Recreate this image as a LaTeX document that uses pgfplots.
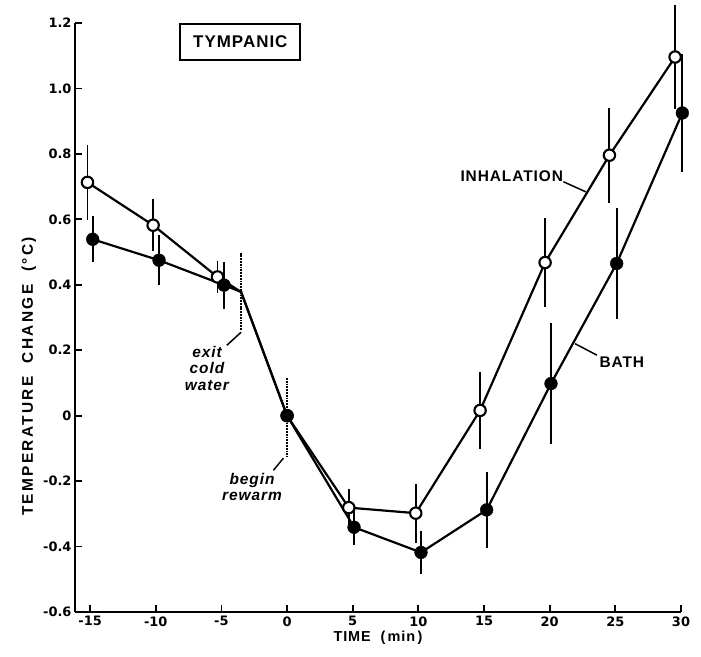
\documentclass[border=0pt]{standalone}
\usepackage{pgfplots}
\pgfplotsset{compat=1.18}
\usepackage{fontspec}
\setmainfont{Liberation Sans}
\newfontfamily\lab[LetterSpace=6]{Liberation Sans}
\newfontfamily\ylab[LetterSpace=15]{Liberation Sans}
\newfontfamily\tickf{DejaVu Sans}
\begin{document}
\begin{tikzpicture}
\begin{axis}[
  at={(0,0)}, anchor=south west,
  scale only axis, width=606bp, height=589bp,
  xmin=-16.15, xmax=30, ymin=-0.6, ymax=1.2,
  clip=false,
  axis x line=bottom, axis y line=left,
  axis line style={-, line width=2.4pt},
  xtick={-15,-10,-5,0,5,10,15,20,25,30},
  xticklabels={-15,-10,-5,0,5,10,15,20,25,30},
  ytick={-0.6,-0.4,-0.2,0,0.2,0.4,0.6,0.8,1.0,1.2},
  yticklabels={-0.6,-0.4,-0.2,0,0.2,0.4,0.6,0.8,1.0,1.2},
  tick align=inside, major tick length=7bp,
  tick style={line width=1.8pt, black},
  ticklabel style={font=\tickf\bfseries\fontsize{13}{14}\selectfont},
  xticklabel style={yshift=-1bp},
  yticklabel style={xshift=0bp},
]
% connecting lines
\addplot[black, line width=2.2pt] coordinates {
  (-15.2,0.713) (-10.2,0.582) (-5.3,0.424) (-3.5,0.378) (0,0) (4.7,-0.281)
  (9.8,-0.298) (14.7,0.016) (19.65,0.468) (24.55,0.796) (29.55,1.096)};
\addplot[black, line width=2.2pt] coordinates {
  (-14.8,0.539) (-9.75,0.475) (-4.8,0.399) (-3.5,0.378) (0,0) (5.1,-0.341)
  (10.2,-0.418) (15.2,-0.288) (20.1,0.098) (25.1,0.465) (30.1,0.925)};
% open circles: inhalation
\addplot[only marks, mark=*, mark size=5.7bp,
  mark options={fill=white, draw=black, line width=2.1pt},
  error bars/.cd, y dir=both, y explicit, error mark=none,
  error bar style={line width=1.9pt, black}]
  coordinates {
  (-15.2,0.713) +- (0,0.115)
  (-10.2,0.582) +- (0,0.08)
  (-5.3,0.424) +- (0,0.05)
  (0,0) +- (0,0)
  (4.7,-0.281) +- (0,0.056)
  (9.8,-0.298) +- (0,0.09)
  (14.7,0.016) +- (0,0.117)
  (19.65,0.468) +- (0,0.135)
  (24.55,0.796) +- (0,0.145)
  (29.55,1.096) +- (0,0.16)};
% filled circles: bath
\addplot[only marks, mark=*, mark size=6.4bp,
  mark options={fill=black, draw=black},
  error bars/.cd, y dir=both, y explicit, error mark=none,
  error bar style={line width=1.9pt, black}]
  coordinates {
  (-14.8,0.539) +- (0,0.07)
  (-9.75,0.475) +- (0,0.077)
  (-4.8,0.399) +- (0,0.072)
  (0,0) +- (0,0)
  (5.1,-0.341) +- (0,0.055)
  (10.2,-0.418) +- (0,0.065)
  (15.2,-0.288) +- (0,0.115)
  (20.1,0.098) +- (0,0.185)
  (25.1,0.465) +- (0,0.17)
  (30.1,0.925) +- (0,0.18)};
% dotted markers of events
\draw[black, line width=1.8pt, densely dotted] (axis cs:-3.5,0.498) -- (axis cs:-3.5,0.26);
\draw[black, line width=1.5pt] (axis cs:-3.5,0.255) -- (axis cs:-4.59,0.215);
\node[align=center, font=\lab\bfseries\itshape\fontsize{15.5}{16.5}\selectfont]
  at (axis cs:-6.1,0.145) {exit\\cold\\water};
\draw[black, line width=1.8pt, densely dotted] (axis cs:0,0.115) -- (axis cs:0,-0.125);
\draw[black, line width=1.5pt] (axis cs:-0.28,-0.130) -- (axis cs:-1.04,-0.167);
\node[align=center, font=\lab\bfseries\itshape\fontsize{15.5}{17}\selectfont]
  at (axis cs:-2.67,-0.218) {begin\\rewarm};
% series labels
\node[font=\lab\bfseries\fontsize{15.5}{17}\selectfont] at (axis cs:17.11,0.733) {INHALATION};
\draw[black, line width=1.5pt] (axis cs:21.04,0.715) -- (axis cs:22.75,0.684);
\node[font=\lab\bfseries\fontsize{15.5}{17}\selectfont] at (axis cs:25.49,0.162) {BATH};
\draw[black, line width=1.5pt] (axis cs:21.93,0.220) -- (axis cs:23.59,0.185);
% title box
\node[draw, line width=2.2pt, minimum width=120bp, minimum height=36bp, inner sep=0pt,
  font=\lab\bfseries\fontsize{17}{19}\selectfont] at (axis cs:-3.56,1.142) {TYMPANIC};
% axis labels
\node[xshift=-46bp, rotate=90, font=\ylab\bfseries\fontsize{15.5}{17}\selectfont]
  at (rel axis cs:0,0.40) {TEMPERATURE\ \ CHANGE\ \ (°C)};
\node[yshift=-26bp, font=\lab\bfseries\fontsize{14.5}{16}\selectfont]
  at (rel axis cs:0.5,0) {TIME\ \ (\,min\,)};
\end{axis}
\pgfresetboundingbox
\path (-75bp,-45bp) rectangle (626bp,612bp);
\end{tikzpicture}
\end{document}
